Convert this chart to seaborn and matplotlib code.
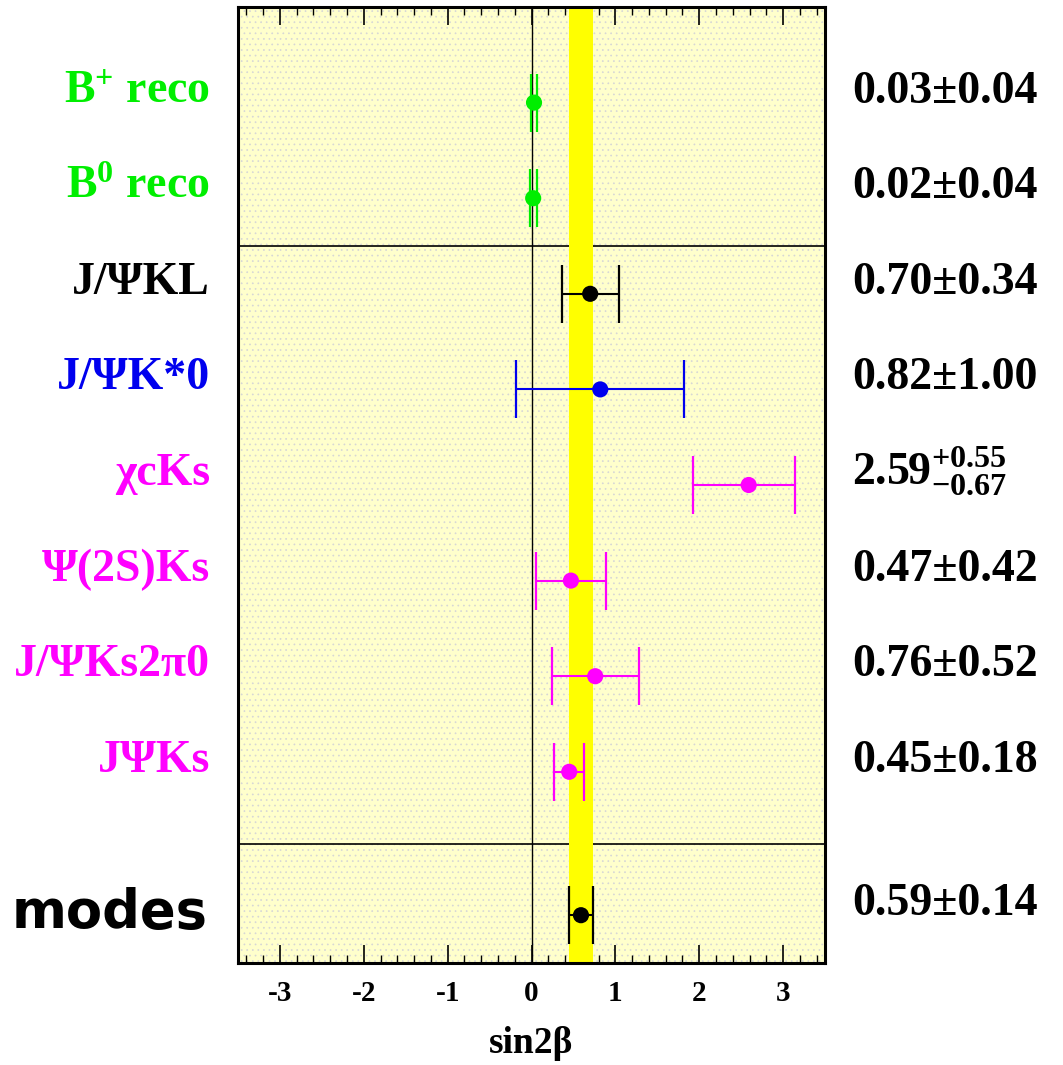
import matplotlib
matplotlib.use("Agg")
import matplotlib.pyplot as plt
import matplotlib.transforms as mtransforms
from matplotlib.patches import Rectangle
from matplotlib.ticker import MultipleLocator
import seaborn as sns
import pandas as pd

# ---- data ----
modes = [r"B$^{\mathregular{+}}$ reco", r"B$^{\mathregular{0}}$ reco", "J/ΨKL", "J/ΨK*0",
         "χcKs", "Ψ(2S)Ks", "J/ΨKs2π0", "JΨKs", "modes"]
values = [0.03, 0.02, 0.70, 0.82, 2.59, 0.47, 0.76, 0.45, 0.59]
err_minus = [0.04, 0.04, 0.34, 1.00, 0.67, 0.42, 0.52, 0.18, 0.14]
err_plus = [0.04, 0.04, 0.34, 1.00, 0.55, 0.42, 0.52, 0.18, 0.14]
colors = ["#00EE00", "#00EE00", "#000000", "#0000EE", "#FF00FF",
          "#FF00FF", "#FF00FF", "#FF00FF", "#000000"]
xticks = [-3, -2, -1, 0, 1, 2, 3]

sns.set_theme(style="white")
plt.rcParams.update({
    "font.family": ["Liberation Serif", "DejaVu Serif"],
    "font.weight": "bold",
    "text.color": "black",
    "axes.labelcolor": "black",
    "xtick.color": "black",
    "mathtext.fontset": "custom",
    "mathtext.rm": "Liberation Serif:bold",
    "mathtext.it": "Liberation Serif:bold",
    "mathtext.bf": "Liberation Serif:bold",
    "axes.unicode_minus": False,
    "hatch.linewidth": 0.5,
})

ypos = list(range(1, 9)) + [9.5]
df = pd.DataFrame({"mode": modes, "value": values, "pos": ypos})

fig = plt.figure(figsize=(10.63, 10.65), dpi=100)
ax = fig.add_axes([238 / 1063, 1 - 963 / 1065, (825 - 238) / 1063, (963 - 7) / 1065])
ax.set_facecolor("#FFFFCC")
ax.add_patch(Rectangle((0, 0), 1, 1, transform=ax.transAxes, facecolor="none",
                       edgecolor="#D6D6D6", hatch="...", lw=0, zorder=0.5))

ax.axvline(0, color="black", lw=1.0, zorder=1)
ax.axhline(2.5, color="black", lw=1.2, zorder=1)
ax.axhline(8.75, color="black", lw=1.2, zorder=1)

ax.axvspan(values[-1] - err_minus[-1], values[-1] + err_plus[-1],
           color="#FFFF00", lw=0, zorder=2.6)

for v, y, em, ep, c in zip(values, ypos, err_minus, err_plus, colors):
    ax.errorbar(v, y, xerr=[[em], [ep]], fmt="none", ecolor=c, elinewidth=1.5,
                capsize=21, capthick=1.6, zorder=3)

sns.scatterplot(data=df, x="value", y="pos", hue="mode",
                palette=dict(zip(modes, colors)), s=135, linewidth=0,
                legend=False, ax=ax, zorder=4)

ax.set_xlim(-3.5, 3.5)
ax.set_ylim(10, 0)
ax.set_yticks([])
ax.set_xticks(xticks)
ax.set_xticklabels([str(t) for t in xticks])
ax.xaxis.set_minor_locator(MultipleLocator(0.2))
ax.tick_params(axis="x", which="both", direction="in", top=True, bottom=True, colors="black")
ax.tick_params(axis="x", which="major", length=13, width=1.2, pad=12, labelsize=21)
ax.tick_params(axis="x", which="minor", length=6, width=1.0)
for lab in ax.get_xticklabels():
    lab.set_fontweight("bold")
    lab.set_color("black")
ax.set_xlabel("sin2β", fontsize=27, fontweight="bold", labelpad=14, color="black")
ax.set_ylabel("")
for sp in ax.spines.values():
    sp.set_linewidth(2.2)
    sp.set_color("black")
    sp.set_zorder(5)

trans = mtransforms.blended_transform_factory(fig.transFigure, ax.transData)
for i, (m, y, c) in enumerate(zip(modes, ypos, colors)):
    if i == len(modes) - 1:
        ax.text(208 / 1063, y + 0.136, m, transform=trans, ha="right", va="baseline",
                fontsize=38, fontweight="bold", color=c,
                family=["DejaVu Sans"], clip_on=False)
    else:
        ax.text(210 / 1063, y, m, transform=trans, ha="right", va="baseline",
                fontsize=33, fontweight="bold", color=c, clip_on=False)

for v, y, em, ep in zip(values, ypos, err_minus, err_plus):
    if abs(em - ep) < 1e-9:
        s = f"{v:.2f}±{em:.2f}"
    else:
        s = f"{v:.2f}" + r"$^{\mathregular{+" + f"{ep:.2f}" + r"}}_{\mathregular{-" + f"{em:.2f}" + r"}}$"
    ax.text(852 / 1063, y, s, transform=trans, ha="left", va="baseline",
            fontsize=33, fontweight="bold", color="black", clip_on=False)

fig.savefig("out.png", dpi=100)
